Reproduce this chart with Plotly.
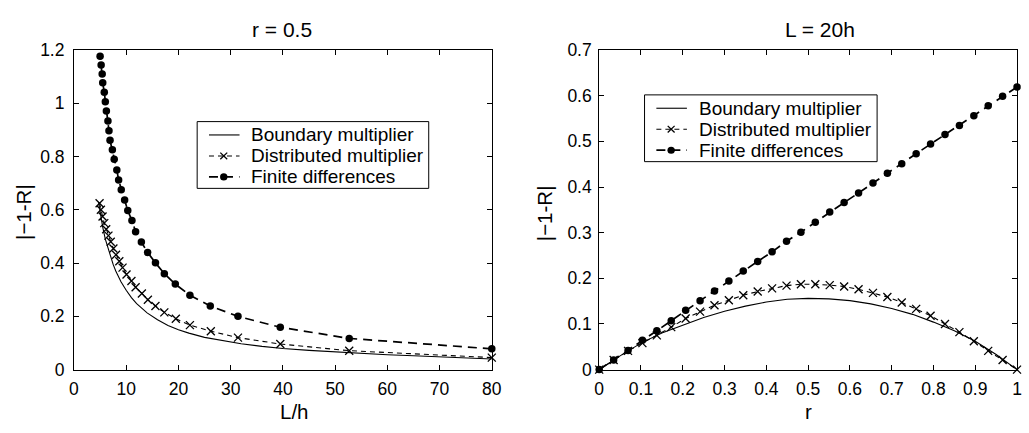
import plotly.graph_objects as go

# ---------------- Left panel: r = 0.5, error vs L/h ----------------
lh_fd = [80.0, 52.7, 39.5, 31.4, 26.1, 22.2, 19.4, 17.3, 15.6, 14.1,
         12.9, 11.8, 11.1, 10.3, 9.7, 9.05, 8.55, 8.2, 7.7, 7.35,
         6.9, 6.7, 6.5, 6.2, 6.0, 5.8, 5.5, 5.4, 5.2, 5.0]
err_fd_left = [0.078, 0.117, 0.159, 0.200, 0.239, 0.279, 0.321, 0.360, 0.401, 0.440,
               0.479, 0.518, 0.560, 0.597, 0.637, 0.675, 0.712, 0.750, 0.790, 0.826,
               0.861, 0.897, 0.934, 0.971, 1.006, 1.042, 1.077, 1.110, 1.144, 1.177]

lh_dist = [80.0, 52.7, 39.5, 31.4, 26.2, 22.2, 19.5, 17.3, 15.6, 14.15,
           13.0, 11.8, 11.0, 10.06, 9.3, 8.68, 8.05, 7.55, 7.04, 6.6,
           6.17, 5.8, 5.47, 5.15, 4.9]
err_dist_left = [0.045, 0.071, 0.096, 0.120, 0.144, 0.167, 0.191, 0.215, 0.239, 0.262,
                 0.286, 0.309, 0.333, 0.357, 0.383, 0.407, 0.431, 0.455, 0.480, 0.503,
                 0.527, 0.550, 0.575, 0.600, 0.625]

lh_bound = [4.7, 5.0, 5.5, 6.0, 6.5, 7.0, 7.5, 8.0, 9.0, 10.0, 11.0, 12.0, 13.0, 14.0,
            16.0, 18.0, 20.0, 22.0, 25.0, 28.0, 32.0, 36.0, 40.0, 45.0, 50.0, 55.0,
            60.0, 65.0, 70.0, 75.0, 80.0]
err_bound_left = [0.630, 0.590, 0.535, 0.490, 0.455, 0.420, 0.395, 0.370, 0.330, 0.298,
                  0.270, 0.248, 0.229, 0.213, 0.187, 0.166, 0.150, 0.137, 0.121, 0.110,
                  0.097, 0.087, 0.079, 0.072, 0.066, 0.061, 0.056, 0.052, 0.048, 0.044,
                  0.040]

# ---------------- Right panel: L = 20h, error vs r ----------------
r_pts = [0.0, 0.0345, 0.069, 0.1034, 0.1379, 0.1724, 0.2069, 0.2414, 0.2759, 0.3103,
         0.3448, 0.3793, 0.4138, 0.4483, 0.4828, 0.5172, 0.5517, 0.5862, 0.6207, 0.6552,
         0.6897, 0.7241, 0.7586, 0.7931, 0.8276, 0.8621, 0.8966, 0.931, 0.9655, 1.0]
err_fd_right = [0.0, 0.021, 0.042, 0.064, 0.085, 0.107, 0.130, 0.151, 0.172, 0.194,
                0.216, 0.237, 0.258, 0.281, 0.301, 0.323, 0.345, 0.366, 0.387, 0.409,
                0.430, 0.451, 0.473, 0.494, 0.515, 0.535, 0.556, 0.578, 0.599, 0.619]
err_dist_right = [0.0, 0.021, 0.041, 0.058, 0.075, 0.093, 0.112, 0.127, 0.141, 0.152,
                  0.163, 0.171, 0.178, 0.184, 0.187, 0.187, 0.185, 0.182, 0.176, 0.168,
                  0.159, 0.147, 0.133, 0.118, 0.100, 0.082, 0.062, 0.041, 0.021, 0.0]

r_bound = [0.0, 0.05, 0.10, 0.15, 0.20, 0.25, 0.30, 0.35, 0.40, 0.45, 0.50,
           0.55, 0.60, 0.65, 0.70, 0.75, 0.80, 0.85, 0.90, 0.95, 1.0]
err_bound_right = [0.0, 0.030, 0.058, 0.080, 0.097, 0.114, 0.128, 0.139, 0.148, 0.154, 0.156,
                   0.155, 0.151, 0.144, 0.134, 0.121, 0.104, 0.085, 0.062, 0.033, 0.0]

series_names = ["Boundary multiplier", "Distributed multiplier", "Finite differences"]
left_title = "r = 0.5"
right_title = "L = 20h"
left_xlabel = "L/h"
right_xlabel = "r"
ylabel = "|\u22121-R|"

left_xticks = [0, 10, 20, 30, 40, 50, 60, 70, 80]
left_yticks = [0, 0.2, 0.4, 0.6, 0.8, 1.0, 1.2]
right_xticks = [0, 0.1, 0.2, 0.3, 0.4, 0.5, 0.6, 0.7, 0.8, 0.9, 1.0]
right_yticks = [0, 0.1, 0.2, 0.3, 0.4, 0.5, 0.6, 0.7]

# ---------------- Figure ----------------
W, H = 1029, 433
FONT = "Liberation Sans, Arial, Helvetica, sans-serif"

def px_x(p):
    return p / W

def px_y(p):
    return 1 - p / H

# line / marker styles
STY_BOUND = dict(color="black", width=1.1)
STY_DIST = dict(color="black", width=1.1, dash="5px,4px")
STY_FD = dict(color="black", width=1.7, dash="9px,6px")
DOT_SIZE = 7.5
CROSS_SIZE = 8

fig = go.Figure()

def add_panel(xa, ya, xb, yb, xd, yd, xf, yf):
    fig.add_trace(go.Scatter(
        x=xb, y=yb, mode="lines", name=series_names[0], line=STY_BOUND,
        xaxis=xa, yaxis=ya, showlegend=False, cliponaxis=False))
    fig.add_trace(go.Scatter(
        x=xd, y=yd, mode="lines+markers", name=series_names[1], line=STY_DIST,
        marker=dict(symbol="x-thin", size=CROSS_SIZE, color="black",
                    line=dict(color="black", width=1.3)),
        xaxis=xa, yaxis=ya, showlegend=False, cliponaxis=False))
    fig.add_trace(go.Scatter(
        x=xf, y=yf, mode="lines+markers", name=series_names[2], line=STY_FD,
        marker=dict(symbol="circle", size=DOT_SIZE, color="black"),
        xaxis=xa, yaxis=ya, showlegend=False, cliponaxis=False))

add_panel("x", "y", lh_bound, err_bound_left, lh_dist, err_dist_left,
          lh_fd, err_fd_left)
add_panel("x2", "y2", r_bound, err_bound_right, r_pts, err_dist_right,
          r_pts, err_fd_right)

TICKFONT = dict(family=FONT, size=17.5, color="black")
ax_common = dict(showline=True, linecolor="black", linewidth=1, mirror="ticks",
                 ticks="inside", ticklen=5, tickwidth=1, tickcolor="black",
                 showgrid=False, zeroline=False, tickfont=TICKFONT)

y_dom = [px_y(377), px_y(42)]

fig.update_layout(
    width=W, height=H,
    margin=dict(l=0, r=0, t=0, b=0),
    paper_bgcolor="white", plot_bgcolor="white",
    font=dict(family=FONT, color="black"),
    showlegend=False,
    xaxis=dict(domain=[px_x(70), px_x(494)], range=[0, 80], anchor="y",
               tickvals=left_xticks, ticklabelstandoff=3, **ax_common),
    yaxis=dict(domain=y_dom, range=[0, 1.2], anchor="x",
               tickvals=left_yticks, ticklabelstandoff=5, **ax_common),
    xaxis2=dict(domain=[px_x(603), px_x(1027)], range=[0, 1], anchor="y2",
                tickvals=right_xticks, ticklabelstandoff=3, **ax_common),
    yaxis2=dict(domain=y_dom, range=[0, 0.7], anchor="x2",
                tickvals=right_yticks, ticklabelstandoff=3, **ax_common),
)

# ---------------- Legends (drawn as boxes in paper space) ----------------
shapes = []
annotations = []
LEG_FONT = dict(family=FONT, size=19, color="black")

def add_legend(x0, y0, w, h, rows):
    shapes.append(dict(type="rect", xref="paper", yref="paper", layer="above",
                       x0=px_x(x0), x1=px_x(x0 + w), y0=px_y(y0 + h), y1=px_y(y0),
                       line=dict(color="black", width=1), fillcolor="white"))
    styles = [STY_BOUND, STY_DIST, STY_FD]
    for i, name in enumerate(series_names):
        yc = y0 + rows[i]
        sx0, sx1, mx = x0 + 12, x0 + 43, x0 + 27
        shapes.append(dict(type="line", xref="paper", yref="paper", layer="above",
                           x0=px_x(sx0), x1=px_x(sx1), y0=px_y(yc), y1=px_y(yc),
                           line=styles[i]))
        if i == 1:
            d = 3.5
            for s in (1, -1):
                shapes.append(dict(type="line", xref="paper", yref="paper", layer="above",
                                   x0=px_x(mx - d), x1=px_x(mx + d),
                                   y0=px_y(yc - s * d), y1=px_y(yc + s * d),
                                   line=dict(color="black", width=1.3)))
        if i == 2:
            r = DOT_SIZE / 2
            shapes.append(dict(type="circle", xref="paper", yref="paper", layer="above",
                               x0=px_x(mx - r), x1=px_x(mx + r),
                               y0=px_y(yc + r), y1=px_y(yc - r),
                               line=dict(color="black", width=0), fillcolor="black"))
        annotations.append(dict(text=name, x=px_x(x0 + 53), y=px_y(yc),
                                xref="paper", yref="paper", xanchor="left",
                                yanchor="middle", showarrow=False, font=LEG_FONT))

add_legend(195, 117, 235, 70, [14, 36, 58])
add_legend(649, 89, 236, 70, [14, 36, 58])

ann_font_title = dict(family=FONT, size=21, color="black")
ann_font_axis = dict(family=FONT, size=20.5, color="black")
annotations += [
    dict(text=left_title, x=px_x(281), y=px_y(20), xref="paper", yref="paper",
         xanchor="center", yanchor="middle", showarrow=False, font=ann_font_title),
    dict(text=right_title, x=px_x(827), y=px_y(20), xref="paper", yref="paper",
         xanchor="center", yanchor="middle", showarrow=False, font=ann_font_title),
    dict(text=left_xlabel, x=px_x(294), y=px_y(434), xref="paper", yref="paper",
         xanchor="center", yanchor="bottom", showarrow=False, font=ann_font_axis,
         borderpad=0),
    dict(text=right_xlabel, x=px_x(815), y=px_y(434), xref="paper", yref="paper",
         xanchor="center", yanchor="bottom", showarrow=False, font=ann_font_axis,
         borderpad=0),
    dict(text=ylabel, x=px_x(18), y=px_y(212), xref="paper", yref="paper",
         xanchor="center", yanchor="middle", textangle=-90, showarrow=False,
         font=ann_font_axis),
    dict(text=ylabel, x=px_x(547), y=px_y(213), xref="paper", yref="paper",
         xanchor="center", yanchor="middle", textangle=-90, showarrow=False,
         font=ann_font_axis),
]
fig.update_layout(shapes=shapes, annotations=annotations)

fig.write_html("out.html")
